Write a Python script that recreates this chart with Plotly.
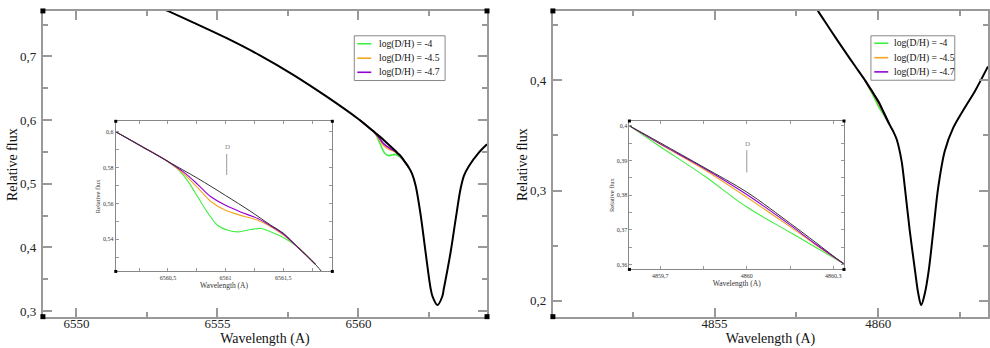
import plotly.graph_objects as go

# ---------------- data ----------------
# H-alpha region, model without D (black)
HA_WL = [6553.0, 6553.24, 6554.13, 6555.31, 6556.49, 6557.66, 6558.85, 6560.02, 6560.27,
         6560.5, 6560.76, 6561.0, 6561.22, 6561.39, 6561.5, 6561.62, 6561.78, 6561.9,
         6562.03, 6562.21, 6562.38, 6562.56, 6562.63, 6562.80, 6562.97, 6563.03, 6563.27,
         6563.45, 6563.62, 6563.74, 6563.92, 6564.27, 6564.56]
HA_FLUX = [0.776, 0.7714, 0.7535, 0.7290, 0.7020, 0.6718, 0.6375, 0.6009, 0.592,
           0.5835, 0.574, 0.5645, 0.5555, 0.548, 0.5435, 0.536, 0.526, 0.516,
           0.4969, 0.45, 0.3928, 0.3355, 0.3225, 0.3094, 0.3225, 0.3355, 0.3928,
           0.4448, 0.4917, 0.5125, 0.528, 0.549, 0.562]
# H-alpha models with D
HA_WL_D40 = [6560.05, 6560.27, 6560.5, 6560.586, 6560.67, 6560.76, 6560.85, 6560.93,
             6561.02, 6561.11, 6561.22, 6561.31, 6561.39, 6561.5, 6561.62, 6561.78]
HA_FLUX_D40 = [0.6, 0.592, 0.5835, 0.5792, 0.5728, 0.5636, 0.5544, 0.5479,
               0.5451, 0.5442, 0.5455, 0.5461, 0.5442, 0.541, 0.536, 0.526]
HA_WL_D45 = [6560.05, 6560.27, 6560.5, 6560.64, 6560.76, 6560.87, 6561.0, 6561.13,
             6561.28, 6561.39, 6561.5, 6561.62, 6561.78]
HA_FLUX_D45 = [0.6, 0.592, 0.5835, 0.5764, 0.5687, 0.5613, 0.5562, 0.5534,
               0.5507, 0.5472, 0.5425, 0.536, 0.526]
HA_FLUX_D47 = [0.6, 0.592, 0.5835, 0.5774, 0.5706, 0.5639, 0.559, 0.5553,
               0.5516, 0.5476, 0.543, 0.536, 0.526]

# H-beta region, model without D (black)
HB_WL = [4857.9, 4858.17, 4858.57, 4858.98, 4859.3, 4859.593, 4859.7, 4859.852, 4860.0,
         4860.152, 4860.237, 4860.335, 4860.45, 4860.56, 4860.71, 4860.81, 4860.96, 4861.12,
         4861.22, 4861.31, 4861.42, 4861.54, 4861.68, 4861.83, 4862.03, 4862.29,
         4862.64, 4862.95, 4863.35]
HB_FLUX = [0.474, 0.4623, 0.4442, 0.4262, 0.4125, 0.4, 0.3951, 0.388, 0.3809,
           0.3718, 0.3665, 0.3603, 0.3540, 0.3465, 0.3269, 0.3029, 0.2637, 0.2276,
           0.2066, 0.196, 0.2066, 0.2276, 0.2637, 0.3029, 0.3359, 0.357,
           0.3751, 0.3901, 0.4126]
HB_WL_D = [4859.593, 4859.7, 4859.852, 4860.0, 4860.152, 4860.237, 4860.335]
HB_FLUX_D40 = [0.4, 0.394, 0.3856, 0.3766, 0.3692, 0.3651, 0.3603]
HB_FLUX_D45 = [0.4, 0.3947, 0.3874, 0.3794, 0.3708, 0.3658, 0.3603]
HB_FLUX_D47 = [0.4, 0.3948, 0.3878, 0.3802, 0.3713, 0.366, 0.3603]

SERIES_NAMES = ["log(D/H) = -4", "log(D/H) = -4.5", "log(D/H) = -4.7"]
SERIES_COLORS = ["#40ee40", "#f5a623", "#9400d3"]

# tick labels
HA_XTICKS = [6550, 6555, 6560]
HA_XTEXT = ["6550", "6555", "6560"]
HA_YTICKS = [0.3, 0.4, 0.5, 0.6, 0.7]
HA_YTEXT = ["0,3", "0,4", "0,5", "0,6", "0,7"]
HB_XTICKS = [4855, 4860]
HB_XTEXT = ["4855", "4860"]
HB_YTICKS = [0.2, 0.3, 0.4]
HB_YTEXT = ["0,2", "0,3", "0,4"]
HAI_XTICKS = [6560.5, 6561, 6561.5]
HAI_XTEXT = ["6560,5", "6561", "6561,5"]
HAI_YTICKS = [0.54, 0.56, 0.58, 0.6]
HAI_YTEXT = ["0,54", "0,56", "0,58", "0,6"]
HBI_XTICKS = [4859.7, 4860, 4860.3]
HBI_XTEXT = ["4859,7", "4860", "4860,3"]
HBI_YTICKS = [0.36, 0.37, 0.38, 0.39, 0.4]
HBI_YTEXT = ["0,36", "0,37", "0,38", "0,39", "0,4"]

# ---------------- layout helpers ----------------
W, H = 990, 348
FONT = "Liberation Serif, Times New Roman, serif"


def fx(p):
    return p / W


def fy(p):
    return 1 - p / H


fig = go.Figure()

d_series_ha = [(HA_WL_D40, HA_FLUX_D40), (HA_WL_D45, HA_FLUX_D45), (HA_WL_D45, HA_FLUX_D47)]
d_series_hb = [(HB_WL_D, HB_FLUX_D40), (HB_WL_D, HB_FLUX_D45), (HB_WL_D, HB_FLUX_D47)]
SM = 0.9

# main H-alpha
for (wl, fl), name, col in zip(d_series_ha, SERIES_NAMES, SERIES_COLORS):
    fig.add_trace(go.Scatter(x=wl, y=fl, mode="lines", name=name, xaxis="x", yaxis="y",
                             line=dict(color=col, width=1.6, shape="spline", smoothing=SM),
                             showlegend=False))
fig.add_trace(go.Scatter(x=HA_WL, y=HA_FLUX, mode="lines", name="no D", showlegend=False,
                         xaxis="x", yaxis="y",
                         line=dict(color="black", width=2, shape="spline", smoothing=SM)))

# main H-beta
for (wl, fl), name, col in zip(d_series_hb, SERIES_NAMES, SERIES_COLORS):
    fig.add_trace(go.Scatter(x=wl, y=fl, mode="lines", name=name, xaxis="x2", yaxis="y2",
                             line=dict(color=col, width=1.6, shape="spline", smoothing=SM),
                             showlegend=False))
fig.add_trace(go.Scatter(x=HB_WL, y=HB_FLUX, mode="lines", name="no D", showlegend=False,
                         xaxis="x2", yaxis="y2",
                         line=dict(color="black", width=2, shape="spline", smoothing=SM)))

# inset H-alpha
for (wl, fl), name, col in zip(d_series_ha, SERIES_NAMES, SERIES_COLORS):
    fig.add_trace(go.Scatter(x=wl, y=fl, mode="lines", name=name, showlegend=False, xaxis="x3", yaxis="y3",
                             line=dict(color=col, width=1.1, shape="spline", smoothing=SM)))
fig.add_trace(go.Scatter(x=HA_WL, y=HA_FLUX, mode="lines", name="no D", showlegend=False,
                         xaxis="x3", yaxis="y3",
                         line=dict(color="#333333", width=1, shape="spline", smoothing=SM)))

# inset H-beta
for (wl, fl), name, col in zip(d_series_hb, SERIES_NAMES, SERIES_COLORS):
    fig.add_trace(go.Scatter(x=wl, y=fl, mode="lines", name=name, showlegend=False, xaxis="x4", yaxis="y4",
                             line=dict(color=col, width=1.1, shape="spline", smoothing=SM)))
fig.add_trace(go.Scatter(x=HB_WL, y=HB_FLUX, mode="lines", name="no D", showlegend=False,
                         xaxis="x4", yaxis="y4",
                         line=dict(color="#333333", width=1, shape="spline", smoothing=SM)))


def main_axis(domain, rng, tv, tt, minor_dtick, title, standoff, anchor, lblstand):
    return dict(domain=domain, range=rng, tickmode="array", tickvals=tv, ticktext=tt,
                ticks="inside", ticklen=9, tickwidth=1.5, tickcolor="#999",
                minor=dict(ticks="inside", dtick=minor_dtick, ticklen=5, tickwidth=1.5, tickcolor="#999"),
                showline=True, linecolor="#999", linewidth=2, mirror="ticks",
                showgrid=False, zeroline=False, anchor=anchor, ticklabelstandoff=lblstand,
                tickfont=dict(family=FONT, size=13, color="#222"),
                title=dict(text=title, font=dict(family=FONT, size=14, color="#111"), standoff=standoff))


def inset_axis(domain, rng, tv, tt, minor_dtick, minor_tick0, title, standoff, anchor, tsize, lblstand):
    return dict(domain=domain, range=rng, tickmode="array", tickvals=tv, ticktext=tt,
                ticks="inside", ticklen=3, tickwidth=1, tickcolor="#999",
                minor=dict(ticks="inside", dtick=minor_dtick, tick0=minor_tick0, ticklen=3,
                           tickwidth=1, tickcolor="#999"),
                showline=True, linecolor="#888", linewidth=1, mirror="ticks",
                showgrid=False, zeroline=False, anchor=anchor, ticklabelstandoff=lblstand,
                tickfont=dict(family=FONT, size=6, color="#333"),
                title=dict(text=title, font=dict(family=FONT, size=tsize, color="#333"), standoff=standoff))


main_y_dom = [fy(318.5), fy(11)]
fig.update_layout(
    width=W, height=H, margin=dict(l=0, r=0, t=0, b=0),
    paper_bgcolor="white", plot_bgcolor="white",
    font=dict(family=FONT), showlegend=False,
    xaxis=main_axis([fx(43), fx(488)], [6548.81, 6564.56], HA_XTICKS, HA_XTEXT, 2.5,
                    "Wavelength (A)", 0, "y", -6),
    yaxis=main_axis(main_y_dom, [0.2912, 0.7714], HA_YTICKS, HA_YTEXT, 0.05,
                    "", 0, "x", 2),
    xaxis2=main_axis([fx(554), 1.0], [4850.06, 4863.35], HB_XTICKS, HB_XTEXT, 2.5,
                     "Wavelength (A)", 0, "y2", -6),
    yaxis2=main_axis(main_y_dom, [0.1856, 0.4629], HB_YTICKS, HB_YTEXT, 0.05,
                     "", 0, "x2", 2),
    xaxis3=inset_axis([fx(116), fx(333)], [6560.048, 6561.926], HAI_XTICKS, HAI_XTEXT, 0.25, 6560.0,
                      "Wavelength (A)", 0, "y3", 7.5, 0),
    yaxis3=inset_axis([fy(273), fy(122)], [0.5221, 0.6059], HAI_YTICKS, HAI_YTEXT, 0.01, 0.5,
                      "Relative flux", 1, "x3", 6.5, 0),
    xaxis4=inset_axis([fx(630.7), fx(845.7)], [4859.593, 4860.337], HBI_XTICKS, HBI_XTEXT, 0.15, 4859.7,
                      "Wavelength (A)", 0, "y4", 7.5, 0),
    yaxis4=inset_axis([fy(271), fy(121.7)], [0.3586, 0.4014], HBI_YTICKS, HBI_YTEXT, 0.005, 0.35,
                      "Relative flux", 1, "x4", 6.5, 0),
)

# main y-axis titles
for xc in (12, 523):
    fig.add_annotation(x=fx(xc), y=fy(165), xref="paper", yref="paper", text="Relative flux",
                       textangle=-90, showarrow=False, xanchor="center", yanchor="middle",
                       font=dict(family=FONT, size=14, color="#111"))

shapes = []
# corner squares
for cx, cy, s in [(43, 11, 5), (488, 11, 5), (43, 318.5, 5), (488, 318.5, 5),
                  (554, 11, 5), (554, 318.5, 5),
                  (116, 122, 3), (333, 122, 3), (116, 273, 3), (333, 273, 3),
                  (630.7, 121.7, 3), (845.7, 121.7, 3), (630.7, 271, 3), (845.7, 271, 3)]:
    shapes.append(dict(type="rect", xref="paper", yref="paper",
                       x0=fx(cx - s / 2), x1=fx(cx + s / 2), y0=fy(cy + s / 2), y1=fy(cy - s / 2),
                       fillcolor="black", line=dict(width=0), layer="above"))
# D line markers in the insets
shapes.append(dict(type="line", xref="x3", yref="y3", x0=6561.01, x1=6561.01, y0=0.5759, y1=0.5877,
                   line=dict(color="#999", width=1)))
shapes.append(dict(type="line", xref="x4", yref="y4", x0=4860.0, x1=4860.0, y0=0.3866, y1=0.3930,
                   line=dict(color="#999", width=1)))

# legend boxes (box left, top, right, bottom; sample line x0, x1; text x; row y's)
for (bl, bt, br, bb, lx0, lx1, tx, rows) in [
        (355, 36, 446, 81, 358, 372, 378, (44, 58.5, 72.7)),
        (872.7, 36, 956.7, 80.7, 876, 890, 894, (43.5, 58, 72.3))]:
    shapes.append(dict(type="rect", xref="paper", yref="paper",
                       x0=fx(bl), x1=fx(br), y0=fy(bb), y1=fy(bt),
                       fillcolor="white", line=dict(color="#888", width=1), layer="above"))
    for ry, name, col in zip(rows, SERIES_NAMES, SERIES_COLORS):
        shapes.append(dict(type="line", xref="paper", yref="paper",
                           x0=fx(lx0), x1=fx(lx1), y0=fy(ry), y1=fy(ry),
                           line=dict(color=col, width=1.6), layer="above"))
        fig.add_annotation(x=fx(tx), y=fy(ry), xref="paper", yref="paper", text=name,
                           showarrow=False, xanchor="left", yanchor="middle",
                           font=dict(family=FONT, size=9.6, color="#111"))
fig.update_layout(shapes=shapes)

fig.add_annotation(x=6561.015, y=0.5914, xref="x3", yref="y3", text="D", showarrow=False,
                   font=dict(family=FONT, size=7, color="#888"))
fig.add_annotation(x=4860.003, y=0.3949, xref="x4", yref="y4", text="D", showarrow=False,
                   font=dict(family=FONT, size=7, color="#888"))

fig.write_html("out.html", config={"displayModeBar": False},
               post_script="document.body.style.margin='0';")
